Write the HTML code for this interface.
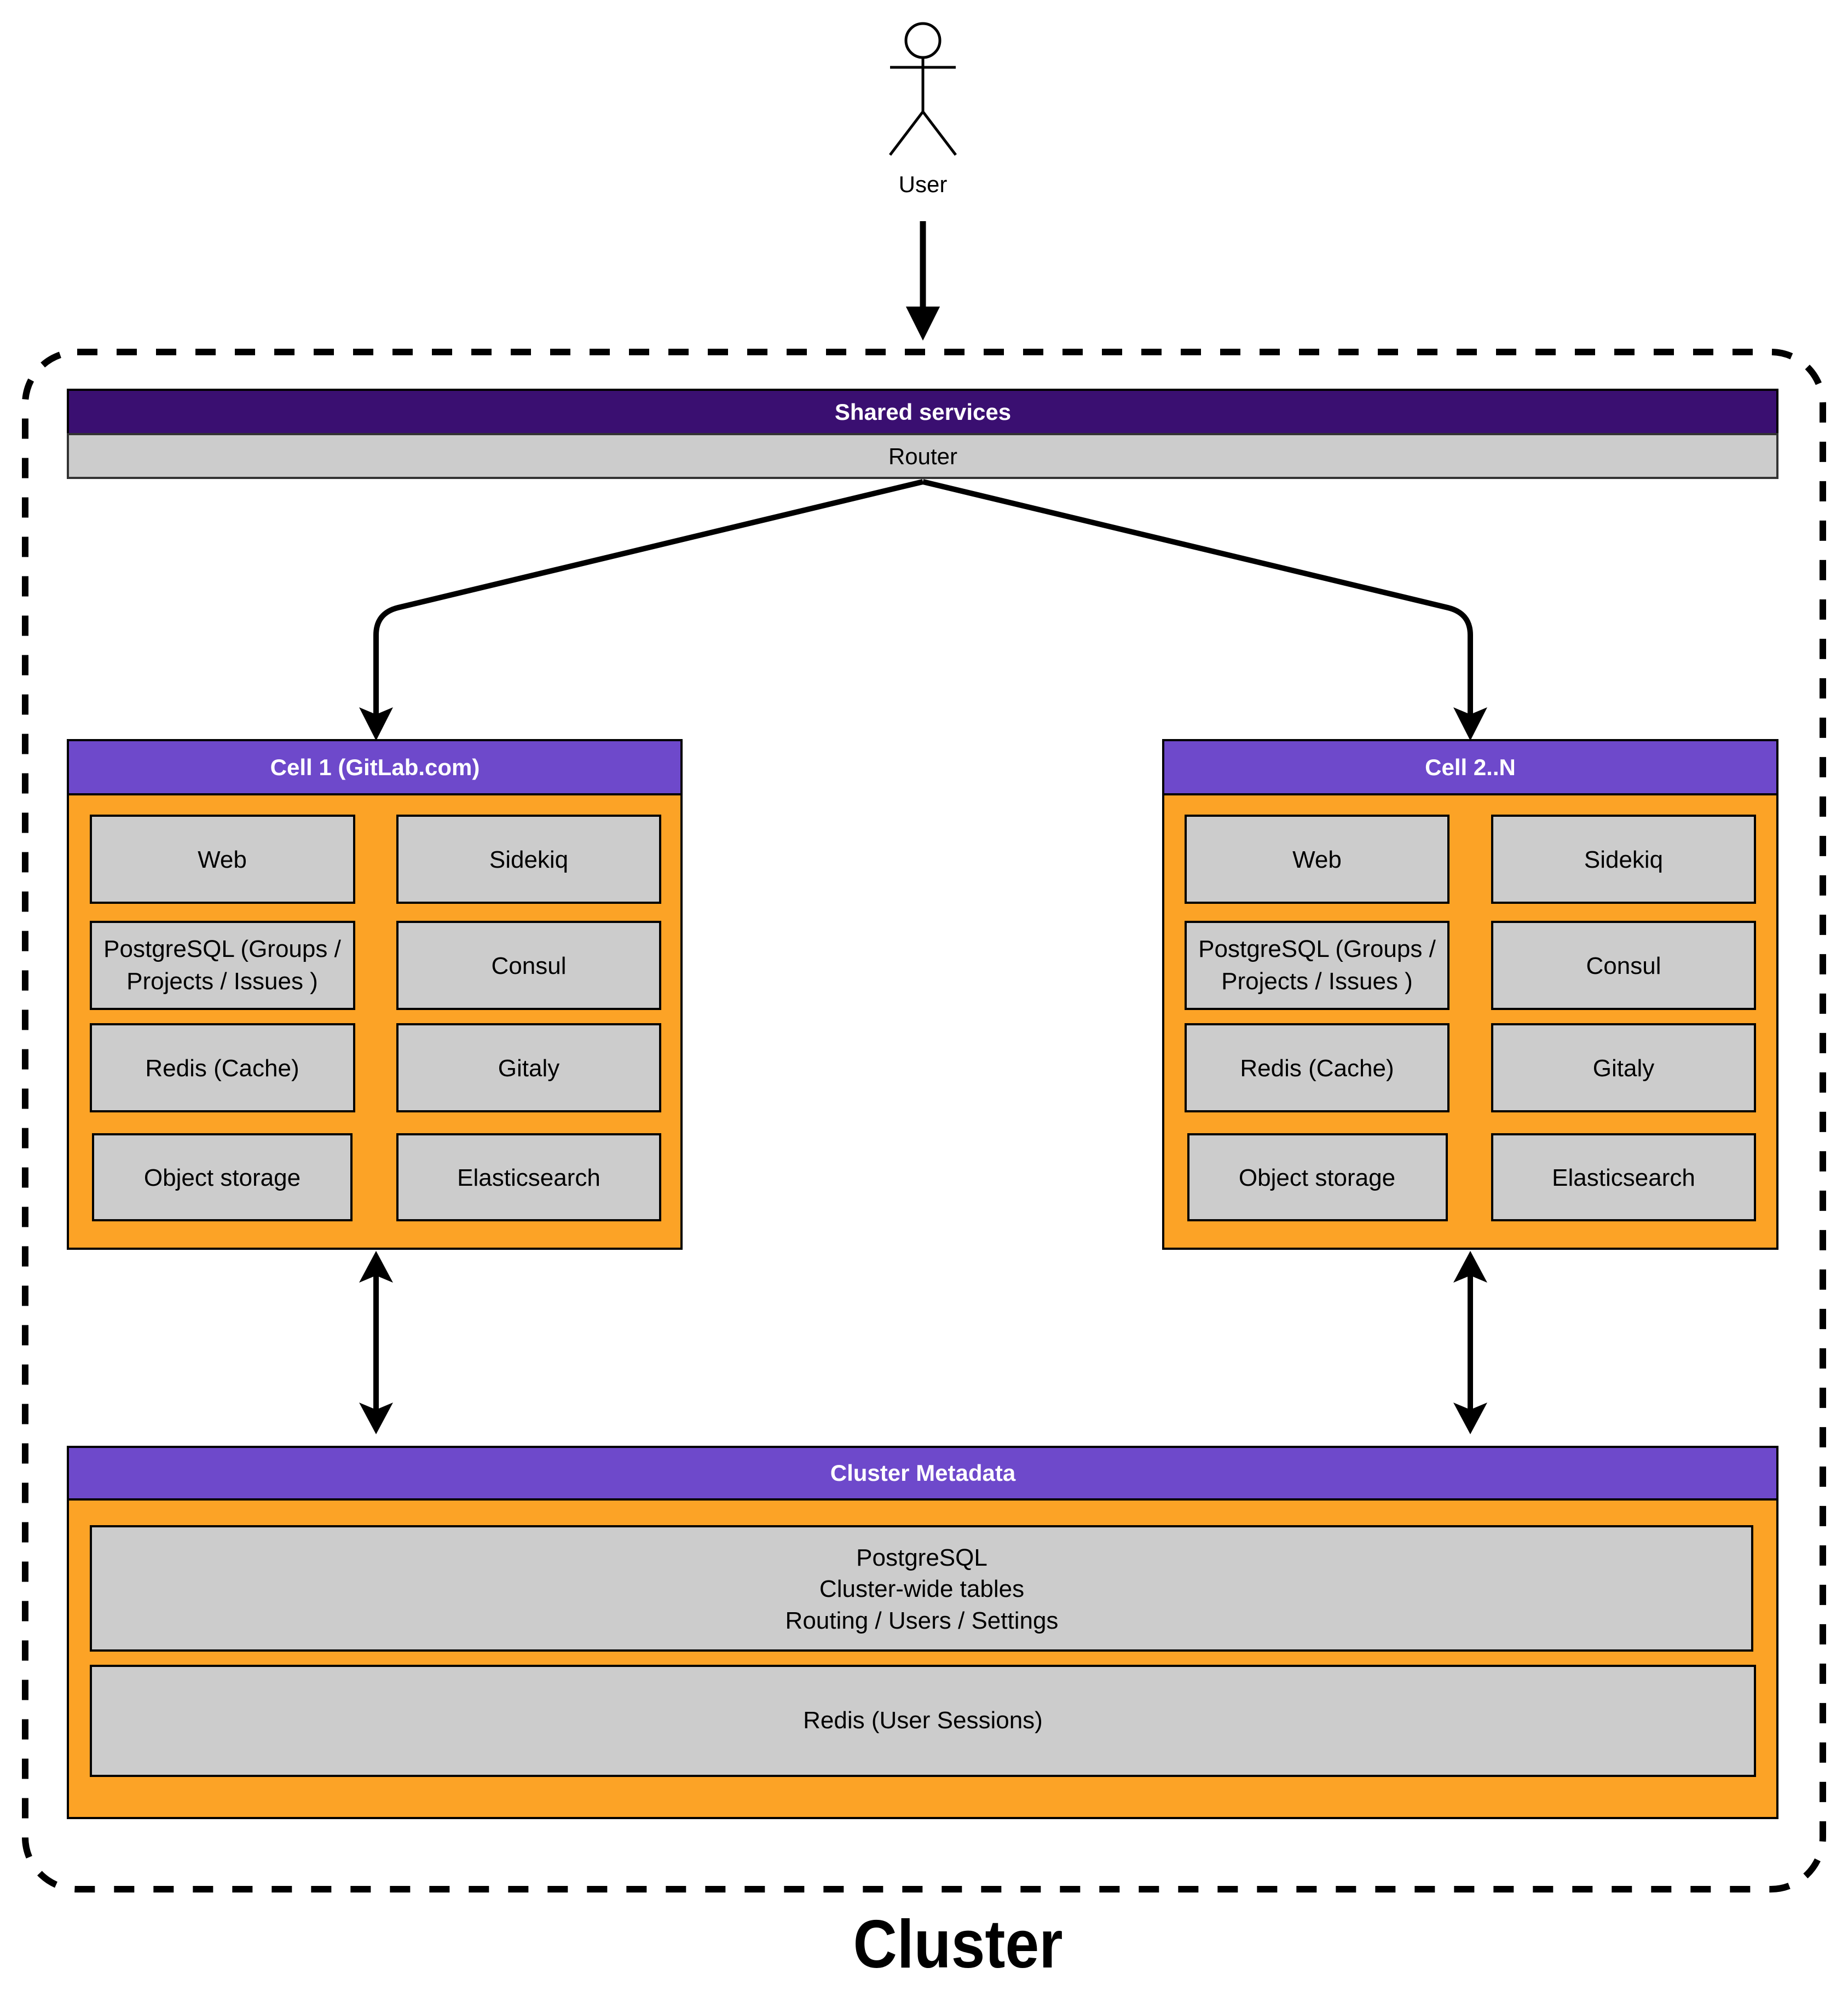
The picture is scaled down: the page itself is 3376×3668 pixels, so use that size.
<!DOCTYPE html>
<html><head><meta charset="utf-8"><style>
html,body{margin:0;padding:0;background:#fff;}
svg{display:block}
text{font-family:"Liberation Sans",sans-serif;}
</style></head><body>
<svg width="3376" height="3668" viewBox="0 0 3376 3668" xmlns="http://www.w3.org/2000/svg">
<!-- User -->
<g stroke="#000" stroke-width="5" fill="none">
<ellipse cx="1686" cy="74" rx="31" ry="31"/>
<line x1="1686" y1="105" x2="1686" y2="204"/>
<line x1="1626" y1="123" x2="1746" y2="123"/>
<line x1="1686" y1="204" x2="1626" y2="283"/>
<line x1="1686" y1="204" x2="1746" y2="283"/>
</g>
<text x="1686" y="351" font-size="42" text-anchor="middle">User</text>
<line x1="1686" y1="404" x2="1686" y2="580" stroke="#000" stroke-width="11"/>
<polygon points="1655,560 1717,560 1686,622 1686,622" fill="#000"/>
<polygon points="1655,560 1686,575 1717,560 1686,622" fill="#000"/>
<!-- dashed cluster -->
<rect x="46" y="643" width="3284" height="2808" rx="95" ry="95" fill="none" stroke="#000" stroke-width="12" stroke-dasharray="37,35"/>
<!-- shared services -->
<rect x="124" y="712" width="3123" height="81" fill="#3a0f71" stroke="#000" stroke-width="4"/>
<rect x="124" y="793" width="3123" height="80" fill="#cccccc" stroke="#333" stroke-width="4"/>
<text x="1686" y="767" font-size="42" font-weight="bold" fill="#fff" text-anchor="middle">Shared services</text>
<text x="1686" y="848" font-size="42" fill="#000" text-anchor="middle">Router</text>
<!-- router connectors -->
<g stroke="#000" stroke-width="10" fill="none">
<path d="M1686,880 L727,1110 Q687,1120 687,1160 L687,1310"/>
<path d="M1686,880 L2645,1110 Q2686,1120 2686,1160 L2686,1310"/>
<line x1="687" y1="2320" x2="687" y2="2585"/>
<line x1="2686" y1="2320" x2="2686" y2="2585"/>
</g>
<g fill="#000">
<polygon points="656,1292 687,1305 718,1292 687,1353"/>
<polygon points="2655,1292 2686,1305 2717,1292 2686,1353"/>
<polygon points="656,2343 687,2330 718,2343 687,2285"/>
<polygon points="656,2562 687,2575 718,2562 687,2620"/>
<polygon points="2655,2343 2686,2330 2717,2343 2686,2285"/>
<polygon points="2655,2562 2686,2575 2717,2562 2686,2620"/>
</g>
<!-- Cell 1 -->
<rect x="124" y="1352" width="1121" height="929" fill="#fca326" stroke="#000" stroke-width="4"/>
<rect x="124" y="1352" width="1121" height="99" fill="#6e49cb" stroke="#000" stroke-width="4"/>
<text x="685" y="1416" font-size="42" font-weight="bold" fill="#fff" text-anchor="middle">Cell 1 (GitLab.com)</text>
<!-- Cell 2 -->
<rect x="2125" y="1352" width="1122" height="929" fill="#fca326" stroke="#000" stroke-width="4"/>
<rect x="2125" y="1352" width="1122" height="99" fill="#6e49cb" stroke="#000" stroke-width="4"/>
<text x="2686" y="1416" font-size="42" font-weight="bold" fill="#fff" text-anchor="middle">Cell 2..N</text>
<g fill="#cccccc" stroke="#000" stroke-width="4">
<rect x="166" y="1490" width="481" height="159"/>
<rect x="726" y="1490" width="480" height="159"/>
<rect x="166" y="1684" width="481" height="159"/>
<rect x="726" y="1684" width="480" height="159"/>
<rect x="166" y="1871" width="481" height="159"/>
<rect x="726" y="1871" width="480" height="159"/>
<rect x="170" y="2072" width="472" height="157"/>
<rect x="726" y="2072" width="480" height="157"/>
<rect x="2166" y="1490" width="480" height="159"/>
<rect x="2726" y="1490" width="480" height="159"/>
<rect x="2166" y="1684" width="480" height="159"/>
<rect x="2726" y="1684" width="480" height="159"/>
<rect x="2166" y="1871" width="480" height="159"/>
<rect x="2726" y="1871" width="480" height="159"/>
<rect x="2171" y="2072" width="472" height="157"/>
<rect x="2726" y="2072" width="480" height="157"/>
</g>
<g font-size="44" text-anchor="middle" fill="#000">
<text x="406" y="1585">Web</text>
<text x="966" y="1585">Sidekiq</text>
<text x="406" y="1748">PostgreSQL (Groups /</text>
<text x="406" y="1807">Projects / Issues )</text>
<text x="966" y="1779">Consul</text>
<text x="406" y="1966">Redis (Cache)</text>
<text x="966" y="1966">Gitaly</text>
<text x="406" y="2166">Object storage</text>
<text x="966" y="2166">Elasticsearch</text>
<text x="2406" y="1585">Web</text>
<text x="2966" y="1585">Sidekiq</text>
<text x="2406" y="1748">PostgreSQL (Groups /</text>
<text x="2406" y="1807">Projects / Issues )</text>
<text x="2966" y="1779">Consul</text>
<text x="2406" y="1966">Redis (Cache)</text>
<text x="2966" y="1966">Gitaly</text>
<text x="2406" y="2166">Object storage</text>
<text x="2966" y="2166">Elasticsearch</text>
</g>
<!-- Cluster metadata -->
<rect x="124" y="2643" width="3123" height="678" fill="#fca326" stroke="#000" stroke-width="4"/>
<rect x="124" y="2643" width="3123" height="96" fill="#6e49cb" stroke="#000" stroke-width="4"/>
<text x="1686" y="2705" font-size="42" font-weight="bold" fill="#fff" text-anchor="middle">Cluster Metadata</text>
<rect x="166" y="2788" width="3035" height="227" fill="#cccccc" stroke="#000" stroke-width="4"/>
<rect x="166" y="3043" width="3040" height="201" fill="#cccccc" stroke="#000" stroke-width="4"/>
<g font-size="44" text-anchor="middle" fill="#000">
<text x="1684" y="2860">PostgreSQL</text>
<text x="1684" y="2917">Cluster-wide tables</text>
<text x="1684" y="2975">Routing / Users / Settings</text>
<text x="1686" y="3157">Redis (User Sessions)</text>
</g>
<text x="1750" y="3594" font-size="124" font-weight="bold" text-anchor="middle" textLength="383" lengthAdjust="spacingAndGlyphs">Cluster</text>
</svg>
</body></html>
